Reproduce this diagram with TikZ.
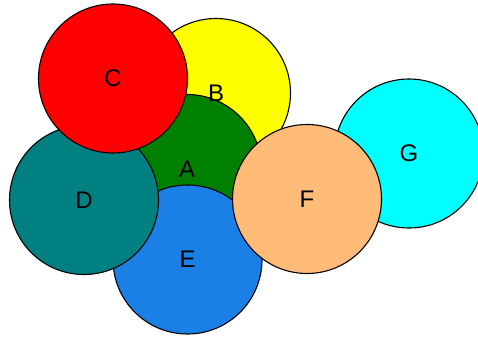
\documentclass[tikz,border=0pt]{standalone}
\usepackage{fontspec}
\setmainfont{Liberation Sans}
\definecolor{greenA}{RGB}{0,128,0}
\definecolor{yellowB}{RGB}{255,255,0}
\definecolor{redC}{RGB}{255,0,0}
\definecolor{tealD}{RGB}{0,128,128}
\definecolor{blueE}{RGB}{26,128,230}
\definecolor{peachF}{RGB}{255,187,120}
\definecolor{cyanG}{RGB}{0,255,255}
\begin{document}
\begin{tikzpicture}[x=1pt,y=-1pt,
    disc/.style={circle, draw=black, line width=1.1pt, inner sep=0pt, minimum size=149pt},
    tag/.style={font=\fontsize{24}{24}\selectfont}]
\useasboundingbox (0,0) rectangle (478,337);
\clip (0,0) rectangle (478,337);
\node[disc, fill=yellowB] (B) at (216,93) {};
\node[disc, fill=greenA] (A) at (187,169) {};
\node[disc, fill=blueE] (E) at (187.5,259.5) {};
\node[disc, fill=tealD] (D) at (84,200) {};
\node[disc, fill=redC] (C) at (113,78.5) {};
\node[disc, fill=cyanG] (G) at (409,153.5) {};
\node[disc, fill=peachF] (F) at (307,199) {};
\node[tag] at (A) {A};
\node[tag] at (B) {B};
\node[tag] at (C) {C};
\node[tag] at (D) {D};
\node[tag] at (E) {E};
\node[tag] at (F) {F};
\node[tag] at (G) {G};
\end{tikzpicture}
\end{document}
